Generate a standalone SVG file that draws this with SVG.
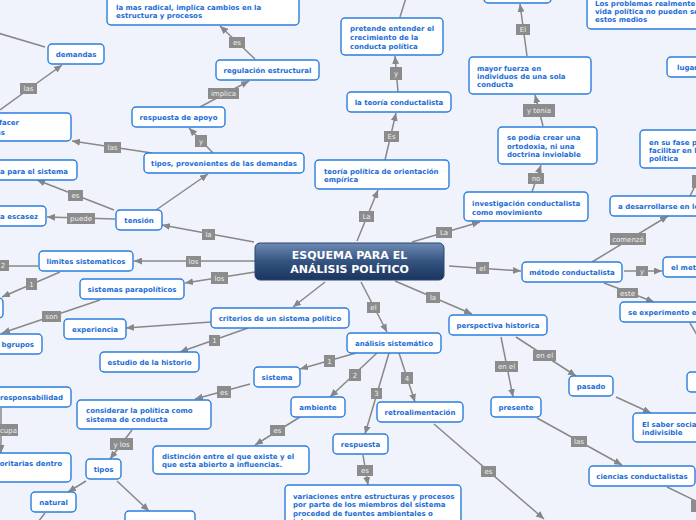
<svg xmlns="http://www.w3.org/2000/svg" width="696" height="520" viewBox="0 0 696 520">
<defs>
<marker id="ah" markerWidth="8" markerHeight="7" refX="8" refY="3.5" orient="auto" markerUnits="userSpaceOnUse"><path d="M0,0 L8,3.5 L0,7 z" fill="#868686"/></marker>
<linearGradient id="cg" x1="0" y1="0" x2="0" y2="1"><stop offset="0" stop-color="#6f8bb5"/><stop offset="0.5" stop-color="#34537f"/><stop offset="1" stop-color="#1a355f"/></linearGradient>
<style>
.n rect{fill:#fff;stroke:#2a7ddf;stroke-width:1.4}
.n text{font-family:"DejaVu Sans",Verdana,sans-serif;font-weight:bold;font-size:7px;fill:#1c6dd6}
.m{text-anchor:middle}
.e{text-anchor:end}
#conn line{stroke:#888;stroke-width:1.5;fill:none}
.a{marker-end:url(#ah)}
.lb rect{fill:#8c8c8c}
.lb text{font-family:"DejaVu Sans",Verdana,sans-serif;font-size:7px;fill:#f0f0f0;text-anchor:middle}
</style>
</defs>
<rect x="0" y="0" width="696" height="520" fill="#f0f3fc"/>
<g id="conn">
<line x1="45" y1="47" x2="-2" y2="33"/>
<line class="a" x1="0" y1="110" x2="62" y2="65"/>
<line class="a" x1="152" y1="153" x2="72" y2="141"/>
<line class="a" x1="213" y1="153" x2="189" y2="128"/>
<line class="a" x1="200" y1="107" x2="249" y2="81"/>
<line class="a" x1="255" y1="59" x2="220" y2="26"/>
<line class="a" x1="156" y1="210" x2="208" y2="174"/>
<line class="a" x1="114" y1="210" x2="37" y2="180"/>
<line class="a" x1="115" y1="219" x2="47" y2="217"/>
<line class="a" x1="254" y1="242" x2="162" y2="225"/>
<line class="a" x1="255" y1="261" x2="134" y2="261"/>
<line x1="38" y1="266" x2="-5" y2="266"/>
<line class="a" x1="60" y1="272" x2="2" y2="297"/>
<line class="a" x1="255" y1="272" x2="185" y2="283"/>
<line class="a" x1="100" y1="300" x2="2" y2="333"/>
<line class="a" x1="211" y1="322" x2="126" y2="328"/>
<line class="a" x1="325" y1="282" x2="293" y2="307"/>
<line class="a" x1="248" y1="328" x2="180" y2="352"/>
<line class="a" x1="361" y1="282" x2="387" y2="332"/>
<line class="a" x1="356" y1="353" x2="300" y2="369"/>
<line class="a" x1="377" y1="353" x2="330" y2="397"/>
<line class="a" x1="389" y1="353" x2="365" y2="434"/>
<line class="a" x1="399" y1="353" x2="415" y2="402"/>
<line class="a" x1="250" y1="384" x2="195" y2="399"/>
<line class="a" x1="132" y1="430" x2="110" y2="459"/>
<line class="a" x1="1" y1="408" x2="1" y2="453"/>
<line class="a" x1="86" y1="481" x2="68" y2="492"/>
<line class="a" x1="117" y1="481" x2="149" y2="511"/>
<line x1="45" y1="513" x2="38" y2="522"/>
<line class="a" x1="300" y1="417" x2="255" y2="445"/>
<line class="a" x1="363" y1="455" x2="368" y2="485"/>
<line class="a" x1="434" y1="424" x2="544" y2="519"/>
<line class="a" x1="395" y1="281" x2="472" y2="314"/>
<line class="a" x1="516" y1="337" x2="576" y2="376"/>
<line class="a" x1="501" y1="337" x2="513" y2="397"/>
<line class="a" x1="616" y1="397" x2="651" y2="413"/>
<line class="a" x1="537" y1="418" x2="622" y2="465"/>
<line x1="667" y1="487" x2="698" y2="502"/>
<line x1="690" y1="323" x2="700" y2="340"/>
<line class="a" x1="449" y1="266" x2="521" y2="271"/>
<line class="a" x1="592" y1="262" x2="668" y2="216"/>
<line x1="690" y1="196" x2="699" y2="178"/>
<line class="a" x1="624" y1="271" x2="662" y2="271"/>
<line class="a" x1="604" y1="283" x2="654" y2="302"/>
<line class="a" x1="412" y1="242" x2="480" y2="222"/>
<line class="a" x1="532" y1="192" x2="541" y2="165"/>
<line class="a" x1="543" y1="126" x2="535" y2="95"/>
<line class="a" x1="527" y1="56" x2="520" y2="4"/>
<line x1="400" y1="17" x2="406" y2="-2"/>
<line class="a" x1="398" y1="92" x2="395" y2="56"/>
<line class="a" x1="385" y1="160" x2="396" y2="113"/>
<line class="a" x1="357" y1="241" x2="378" y2="190"/>
<g class="lb">
<rect x="20" y="83" width="17" height="11"/><text x="28.5" y="91">las</text>
<rect x="104" y="142" width="17" height="11"/><text x="112.5" y="150">las</text>
<rect x="195" y="135" width="12" height="12"/><text x="201" y="143.5">y</text>
<rect x="208" y="88" width="31" height="11"/><text x="223.5" y="96">implica</text>
<rect x="229" y="37" width="16" height="11"/><text x="237" y="45">es</text>
<rect x="68" y="190" width="15" height="11"/><text x="75.5" y="198">es</text>
<rect x="67" y="213" width="28" height="11"/><text x="81" y="221">puede</text>
<rect x="202" y="229" width="13" height="11"/><text x="208.5" y="237">la</text>
<rect x="186" y="256" width="15" height="11"/><text x="193.5" y="264">los</text>
<rect x="-3" y="260" width="12" height="11"/><text x="3" y="268">2</text>
<rect x="26" y="278" width="11" height="12"/><text x="31.5" y="286.5">1</text>
<rect x="211" y="272" width="17" height="12"/><text x="219.5" y="280.5">los</text>
<rect x="42" y="311" width="19" height="11"/><text x="51.5" y="319">son</text>
<rect x="209" y="335" width="11" height="11"/><text x="214.5" y="343">1</text>
<rect x="367" y="302" width="13" height="11"/><text x="373.5" y="310">el</text>
<rect x="324" y="355" width="11" height="12"/><text x="329.5" y="363.5">1</text>
<rect x="349" y="369" width="12" height="12"/><text x="355" y="377.5">2</text>
<rect x="371" y="388" width="11" height="11"/><text x="376.5" y="396">3</text>
<rect x="401" y="372" width="12" height="12"/><text x="407" y="380.5">4</text>
<rect x="217" y="386" width="14" height="12"/><text x="224" y="394.5">es</text>
<rect x="110" y="438" width="23" height="12"/><text x="121.5" y="446.5">y los</text>
<rect x="-10" y="424" width="28" height="12"/><text x="8.5" y="432.5">cupa</text>
<rect x="270" y="425" width="15" height="11"/><text x="277.5" y="433">es</text>
<rect x="357" y="465" width="16" height="11"/><text x="365" y="473">es</text>
<rect x="481" y="466" width="15" height="11"/><text x="488.5" y="474">es</text>
<rect x="426" y="292" width="14" height="11"/><text x="433" y="300">la</text>
<rect x="533" y="350" width="23" height="11"/><text x="544.5" y="358">en el</text>
<rect x="495" y="361" width="23" height="11"/><text x="506.5" y="369">en el</text>
<rect x="571" y="436" width="16" height="11"/><text x="579" y="444">las</text>
<rect x="691" y="500" width="12" height="12"/>
<rect x="476" y="262" width="13" height="12"/><text x="482.5" y="270.5">el</text>
<rect x="610" y="233" width="36" height="12"/><text x="628" y="241.5">comenzó</text>
<rect x="636" y="266" width="12" height="10"/><text x="642" y="273.5">y</text>
<rect x="617" y="288" width="21" height="10"/><text x="627.5" y="295.5">este</text>
<rect x="436" y="227" width="16" height="11"/><text x="444" y="235">La</text>
<rect x="528" y="173" width="16" height="11"/><text x="536" y="181">no</text>
<rect x="523" y="104" width="32" height="13"/><text x="539" y="113">y tenia</text>
<rect x="516" y="24" width="14" height="11"/><text x="523" y="32">El</text>
<rect x="390" y="67" width="12" height="13"/><text x="396" y="76">y</text>
<rect x="384" y="131" width="15" height="11"/><text x="391.5" y="139">Es</text>
<rect x="359" y="211" width="15" height="11"/><text x="366.5" y="219">La</text>
<rect x="692" y="175" width="10" height="13"/>
</g>
</g>
<g id="center"><rect x="255" y="243" width="189" height="37" rx="5" fill="url(#cg)" stroke="#2a4670" stroke-width="1"/>
<text x="349.5" y="259" text-anchor="middle" font-family="DejaVu Sans, Verdana, sans-serif" font-weight="bold" font-size="11" fill="#fff">ESQUEMA PARA EL</text>
<text x="349.5" y="272.5" text-anchor="middle" font-family="DejaVu Sans, Verdana, sans-serif" font-weight="bold" font-size="11" fill="#fff">ANÁLISIS POLÍTICO</text></g>
<g id="n1" class="n"><rect x="107" y="-10" width="192" height="35" rx="4"/><text x="116" y="9.5">la mas radical, implica cambios en la</text><text x="116" y="18">estructura y procesos</text></g>
<g id="n2" class="n"><rect x="48" y="44" width="56" height="20" rx="4"/><text class="m" x="76" y="56.5">demandas</text></g>
<g id="n3" class="n"><rect x="-30" y="113" width="101" height="28" rx="4"/><text class="e" x="19" y="124.5">facer</text><text class="e" x="5" y="134.5">as</text></g>
<g id="n4" class="n"><rect x="144" y="153" width="160" height="20" rx="4"/><text class="m" x="224" y="165.5">tipos, provenientes de las demandas</text></g>
<g id="n5" class="n"><rect x="132" y="107" width="93" height="20" rx="4"/><text class="m" x="178.5" y="119.5">respuesta de apoyo</text></g>
<g id="n6" class="n"><rect x="216" y="60" width="103" height="20" rx="4"/><text class="m" x="267.5" y="72.5">regulación estructural</text></g>
<g id="n7" class="n"><rect x="116" y="210" width="46" height="20" rx="4"/><text class="m" x="139" y="222.5">tensión</text></g>
<g id="n8" class="n"><rect x="-30" y="160" width="107" height="20" rx="4"/><text class="e" x="68" y="173.5">ca para el sistema</text></g>
<g id="n9" class="n"><rect x="-30" y="206" width="76" height="20" rx="4"/><text class="e" x="38" y="218.5">a escasez</text></g>
<g id="n10" class="n"><rect x="39" y="251" width="94" height="20" rx="4"/><text class="m" x="86" y="263.5">limites sistematicos</text></g>
<g id="n11" class="n"><rect x="-40" y="298" width="43" height="20" rx="4"/></g>
<g id="n12" class="n"><rect x="80" y="279" width="104" height="20" rx="4"/><text class="m" x="132" y="291.5">sistemas parapolíticos</text></g>
<g id="n13" class="n"><rect x="-30" y="334" width="72" height="20" rx="4"/><text class="e" x="34" y="346.5">bgrupos</text></g>
<g id="n14" class="n"><rect x="64" y="319" width="62" height="20" rx="4"/><text class="m" x="95" y="331.5">experiencia</text></g>
<g id="n15" class="n"><rect x="211" y="308" width="138" height="20" rx="4"/><text class="m" x="280" y="320.5">criterios de un sistema político</text></g>
<g id="n16" class="n"><rect x="100" y="352" width="99" height="20" rx="4"/><text class="m" x="149.5" y="364.5">estudio de la historio</text></g>
<g id="n17" class="n"><rect x="347" y="333" width="94" height="20" rx="4"/><text class="m" x="394" y="345.5">análisis sistemático</text></g>
<g id="n18" class="n"><rect x="254" y="367" width="46" height="20" rx="4"/><text class="m" x="277" y="379.5">sistema</text></g>
<g id="n19" class="n"><rect x="77" y="400" width="134" height="29" rx="4"/><text x="86" y="412.5">considerar la política como</text><text x="86" y="421.5">sistema de conducta</text></g>
<g id="n20" class="n"><rect x="86" y="459" width="35" height="20" rx="4"/><text class="m" x="103.5" y="471.5">tipos</text></g>
<g id="n21" class="n"><rect x="31" y="492" width="45" height="20" rx="4"/><text class="m" x="53.5" y="504.5">natural</text></g>
<g id="n22" class="n"><rect x="125" y="511" width="70" height="20" rx="4"/></g>
<g id="n23" class="n"><rect x="-30" y="387" width="101" height="20" rx="4"/><text class="e" x="63" y="400">responsabilidad</text></g>
<g id="n24" class="n"><rect x="-30" y="453" width="101" height="29" rx="4"/><text class="e" x="62" y="465.5">oritarias dentro</text></g>
<g id="n25" class="n"><rect x="291" y="397" width="54" height="20" rx="4"/><text class="m" x="318" y="409.5">ambiente</text></g>
<g id="n26" class="n"><rect x="153" y="446" width="156" height="28" rx="4"/><text x="162" y="458.5">distinción entre el que existe y el</text><text x="162" y="467">que esta abierto a influencias.</text></g>
<g id="n27" class="n"><rect x="333" y="434" width="55" height="20" rx="4"/><text class="m" x="360.5" y="446.5">respuesta</text></g>
<g id="n28" class="n"><rect x="285" y="485" width="176" height="50" rx="4"/><text x="293" y="498.5">variaciones entre estructuras y procesos</text><text x="293" y="507">por parte de los miembros del sistema</text><text x="293" y="515.5">proceded de fuentes ambientales o</text><text x="293" y="524">internas</text></g>
<g id="n29" class="n"><rect x="377" y="402" width="86" height="20" rx="4"/><text class="m" x="420" y="414.5">retroalimentación</text></g>
<g id="n30" class="n"><rect x="449" y="315" width="98" height="20" rx="4"/><text class="m" x="498" y="327.5">perspectiva historica</text></g>
<g id="n31" class="n"><rect x="569" y="376" width="44" height="20" rx="4"/><text class="m" x="591" y="388.5">pasado</text></g>
<g id="n32" class="n"><rect x="491" y="397" width="50" height="20" rx="4"/><text class="m" x="516" y="409.5">presente</text></g>
<g id="n33" class="n"><rect x="633" y="413" width="80" height="29" rx="4"/><text x="642" y="426.5">El saber social</text><text x="642" y="435">indivisible</text></g>
<g id="n34" class="n"><rect x="589" y="466" width="106" height="20" rx="4"/><text class="m" x="642" y="478.5">ciencias conductalistas</text></g>
<g id="n35" class="n"><rect x="687" y="372" width="30" height="20" rx="4"/></g>
<g id="n36" class="n"><rect x="522" y="262" width="100" height="20" rx="4"/><text class="m" x="572" y="274.5">método conductalista</text></g>
<g id="n37" class="n"><rect x="610" y="196" width="100" height="20" rx="4"/><text x="618" y="208.5">a desarrollarse en lo</text></g>
<g id="n38" class="n"><rect x="640" y="130" width="70" height="38" rx="4"/><text x="649" y="144.5">en su fase p</text><text x="649" y="152.5">facilitar en l</text><text x="649" y="160.5">política</text></g>
<g id="n39" class="n"><rect x="667" y="57" width="40" height="20" rx="4"/><text x="677" y="69.5">lugar</text></g>
<g id="n40" class="n"><rect x="587" y="-10" width="120" height="39" rx="4"/><text x="595" y="5.5">Los problemas realmente</text><text x="595" y="13.5">vida política no pueden se</text><text x="595" y="21.5">estos medios</text></g>
<g id="n41" class="n"><rect x="663" y="257" width="40" height="20" rx="4"/><text x="671" y="269.5">el meto</text></g>
<g id="n42" class="n"><rect x="620" y="302" width="90" height="20" rx="4"/><text x="628" y="314.5">se experimento e</text></g>
<g id="n43" class="n"><rect x="464" y="192" width="124" height="29" rx="4"/><text x="472" y="205.5">investigación conductalista</text><text x="472" y="214.5">como movimiento</text></g>
<g id="n44" class="n"><rect x="498" y="127" width="99" height="37" rx="4"/><text x="507" y="139.5">se podía crear una</text><text x="507" y="148.5">ortodoxia, ni una</text><text x="507" y="156.5">doctrina inviolable</text></g>
<g id="n45" class="n"><rect x="469" y="57" width="122" height="37" rx="4"/><text x="477" y="70.5">mayor fuerza en</text><text x="477" y="78.5">individuos de una sola</text><text x="477" y="86.5">conducta</text></g>
<g id="n46" class="n"><rect x="484" y="-20" width="67" height="23" rx="4"/></g>
<g id="n47" class="n"><rect x="341" y="18" width="102" height="37" rx="4"/><text x="350" y="30.5">pretende entender el</text><text x="350" y="39.5">crecimiento de la</text><text x="350" y="48.5">conducta política</text></g>
<g id="n48" class="n"><rect x="347" y="92" width="104" height="20" rx="4"/><text class="m" x="399" y="104.5">la teoría conductalista</text></g>
<g id="n49" class="n"><rect x="315" y="160" width="134" height="29" rx="4"/><text x="324" y="173.5">teoría política de orientación</text><text x="324" y="182">empírica</text></g>
</svg>
